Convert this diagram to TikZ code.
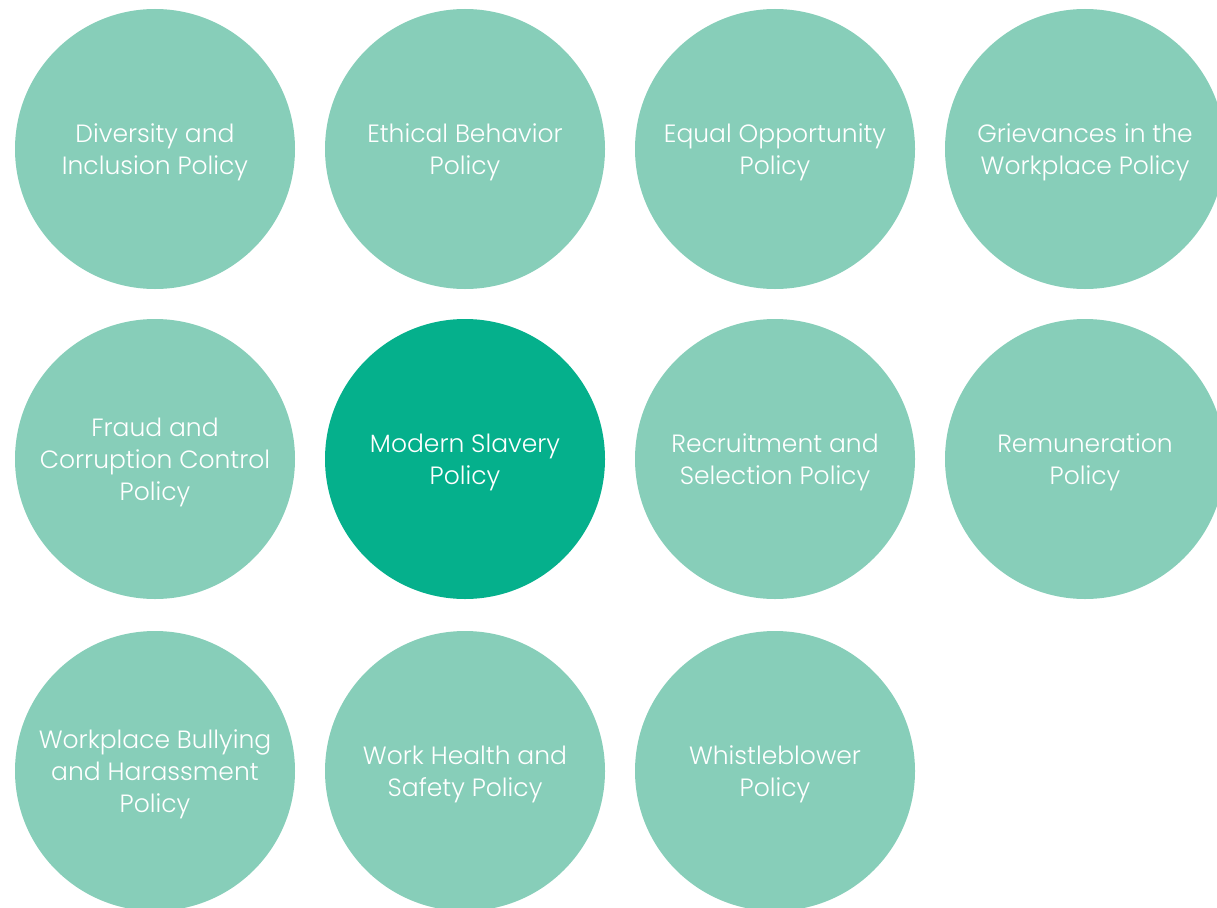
\documentclass[tikz,border=0pt]{standalone}
\usepackage{fontspec}
\setmainfont{Poppins}[UprightFont=* Light]
\definecolor{lightg}{HTML}{87CEB9}
\definecolor{darkg}{HTML}{05B08C}
\begin{document}
\begin{tikzpicture}[x=1pt,y=-1pt,
  pol/.style={circle, fill=lightg, minimum size=280pt, inner sep=0pt, text=white, align=center,
    font=\fontsize{25}{32}\selectfont, text width=270pt},
  hl/.style={pol, fill=darkg},
  lbl/.style={text=white, align=center, font=\fontsize{25}{32}\selectfont, inner sep=0pt}]
\useasboundingbox (0,0) rectangle (1217,907);
\begin{scope}
\clip (0,0) rectangle (1217,907);
\node[pol] (a) at (155,149) {};
\node[pol] (b) at (465,149) {};
\node[pol] (c) at (775,149) {};
\node[pol] (d) at (1085,149) {};
\node[pol] (e) at (155,459) {};
\node[hl] (f) at (465,459) {};
\node[pol] (g) at (775,459) {};
\node[pol] (h) at (1085,459) {};
\node[pol] (i) at (155,771) {};
\node[pol] (j) at (465,771) {};
\node[pol] (k) at (775,771) {};
\end{scope}
\node[lbl] (ta) at ([yshift=-3pt]a.center) {Diversity and\\Inclusion Policy};
\node[lbl] (tb) at ([yshift=-3pt]b.center) {Ethical Behavior\\Policy};
\node[lbl] (tc) at ([yshift=-3pt]c.center) {Equal Opportunity\\Policy};
\node[lbl] (td) at ([yshift=-3pt]d.center) {Grievances in the\\Workplace Policy};
\node[lbl] (te) at ([yshift=-3pt]e.center) {Fraud and\\Corruption Control\\Policy};
\node[lbl] (tf) at ([yshift=-3pt]f.center) {Modern Slavery\\Policy};
\node[lbl] (tg) at ([yshift=-3pt]g.center) {Recruitment and\\Selection Policy};
\node[lbl] (th) at ([yshift=-3pt]h.center) {Remuneration\\Policy};
\node[lbl] (ti) at ([yshift=-3pt]i.center) {Workplace Bullying\\and Harassment\\Policy};
\node[lbl] (tj) at ([yshift=-3pt]j.center) {Work Health and\\Safety Policy};
\node[lbl] (tk) at ([yshift=-3pt]k.center) {Whistleblower\\Policy};
\end{tikzpicture}
\end{document}
